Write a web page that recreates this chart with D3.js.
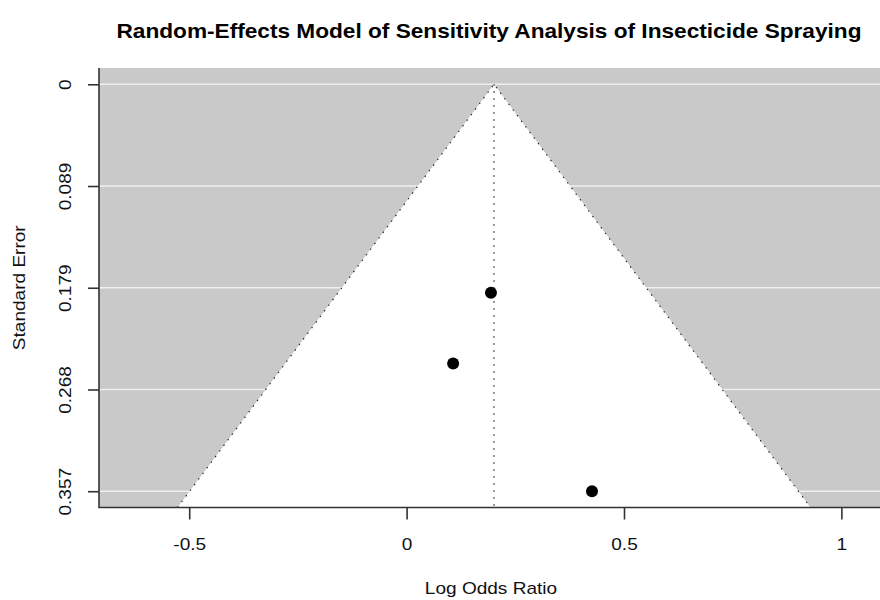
<!DOCTYPE html>
<html>
<head>
<meta charset="utf-8">
<script src="https://cdn.jsdelivr.net/npm/d3@7"></script>
<style>
  html, body { margin: 0; padding: 0; background: #fff; }
  svg { display: block; font-family: "Liberation Sans", Arial, Helvetica, sans-serif; }
</style>
</head>
<body>
<svg id="chart" width="880" height="600"></svg>
<script>
// Study estimates (log odds ratio) and their standard errors
const studyLabels = ["Study 1", "Study 2", "Study 3"];
const logOddsRatio = [0.194, 0.107, 0.4264];
const standardError = [0.183, 0.245, 0.3572];

// Pooled random-effects estimate (centre of the funnel)
const pooledEstimate = 0.201;

// Axis ticks
const xTicks = [-0.5, 0, 0.5, 1];
const yTickValues = [0, 0.0893, 0.1786, 0.2679, 0.3572];
const yTickLabels = ["0", "0.089", "0.179", "0.268", "0.357"];

const titleText = "Random-Effects Model of Sensitivity Analysis of Insecticide Spraying";
const xLabel = "Log Odds Ratio";
const yLabel = "Standard Error";

(function draw() {
  const svg = d3.select("#chart");

  // Plot region
  const pLeft = 99, pRight = 883, pTop = 68, pBottom = 507.5;
  const axisFont = 17;
  const stretch = 1.12; // slightly wide lettering for the axis texts

  const seMax = d3.max(standardError);
  const yPad = seMax * 0.04;
  const y = d3.scaleLinear().domain([-yPad, seMax + yPad]).range([pTop, pBottom]);
  const x = d3.scaleLinear().domain([-0.7075, 1.0957]).range([pLeft, pRight]);

  // widen a text element horizontally by the given factor
  function widen(sel, factor) {
    sel.each(function () {
      const len = this.getComputedTextLength();
      d3.select(this)
        .attr("textLength", len * factor)
        .attr("lengthAdjust", "spacingAndGlyphs");
    });
  }

  // Grey background panel
  svg.append("rect")
    .attr("x", pLeft).attr("y", pTop)
    .attr("width", pRight - pLeft).attr("height", pBottom - pTop)
    .attr("fill", "#c9c9c9");

  // Horizontal reference lines
  svg.append("g").selectAll("line").data(yTickValues).join("line")
    .attr("x1", pLeft).attr("x2", pRight)
    .attr("y1", d => y(d)).attr("y2", d => y(d))
    .attr("stroke", "#efefef").attr("stroke-width", 1.5);

  // 95% pseudo-confidence funnel
  const seBottom = y.domain()[1];
  const funnel = [
    [pooledEstimate - 1.96 * seBottom, seBottom],
    [pooledEstimate, 0],
    [pooledEstimate + 1.96 * seBottom, seBottom]
  ];
  const line = d3.line().x(d => x(d[0])).y(d => y(d[1]));
  svg.append("path")
    .attr("d", line(funnel) + "Z")
    .attr("fill", "#ffffff");
  svg.append("path")
    .attr("d", line(funnel))
    .attr("fill", "none")
    .attr("stroke", "#222").attr("stroke-width", 1.2)
    .attr("stroke-dasharray", "1.4,5.6");

  // Vertical line at the pooled estimate
  svg.append("line")
    .attr("x1", x(pooledEstimate)).attr("x2", x(pooledEstimate))
    .attr("y1", y(0)).attr("y2", pBottom)
    .attr("stroke", "#222").attr("stroke-width", 1.2)
    .attr("stroke-dasharray", "1.4,5.6");

  // Study points
  svg.append("g").selectAll("circle").data(studyLabels).join("circle")
    .attr("cx", (d, i) => x(logOddsRatio[i]))
    .attr("cy", (d, i) => y(standardError[i]))
    .attr("r", 6)
    .attr("fill", "#000");

  // L-shaped frame
  svg.append("path")
    .attr("d", `M${pLeft},${pTop}V${pBottom}H${pRight}`)
    .attr("fill", "none").attr("stroke", "#333").attr("stroke-width", 1.6);

  // X axis
  const xAxis = d3.axisBottom(x).tickValues(xTicks).tickSize(12).tickPadding(18)
    .tickFormat(d => String(d));
  const gx = svg.append("g").attr("transform", `translate(0,${pBottom})`).call(xAxis);
  gx.select(".domain").remove();
  gx.selectAll(".tick line").attr("stroke", "#333").attr("stroke-width", 1.6);
  gx.selectAll(".tick text").attr("font-size", axisFont).attr("fill", "#111")
    .attr("font-family", "Liberation Sans, Arial, sans-serif")
    .call(widen, stretch);

  // Y axis with rotated labels
  const yAxis = d3.axisLeft(y).tickValues(yTickValues).tickSize(11)
    .tickFormat((d, i) => yTickLabels[i]);
  const gy = svg.append("g").attr("transform", `translate(${pLeft},0)`).call(yAxis);
  gy.select(".domain").remove();
  gy.selectAll(".tick line").attr("stroke", "#333").attr("stroke-width", 1.6);
  gy.selectAll(".tick text")
    .attr("font-size", axisFont).attr("fill", "#111")
    .attr("font-family", "Liberation Sans, Arial, sans-serif")
    .attr("x", null).attr("dy", null)
    .attr("text-anchor", "middle")
    .attr("transform", "translate(-34,0) rotate(-90)")
    .attr("dominant-baseline", "central")
    .call(widen, stretch);

  // Title
  svg.append("text")
    .attr("x", (pLeft + pRight) / 2 - 2).attr("y", 38)
    .attr("text-anchor", "middle")
    .attr("font-size", 21).attr("font-weight", "bold").attr("fill", "#000")
    .attr("textLength", 745).attr("lengthAdjust", "spacingAndGlyphs")
    .text(titleText);

  // Axis titles
  svg.append("text")
    .attr("x", (pLeft + pRight) / 2).attr("y", 594)
    .attr("text-anchor", "middle")
    .attr("font-size", axisFont).attr("fill", "#111")
    .text(xLabel)
    .call(widen, stretch);

  svg.append("text")
    .attr("transform", `translate(25,${(pTop + pBottom) / 2}) rotate(-90)`)
    .attr("text-anchor", "middle")
    .attr("font-size", axisFont).attr("fill", "#111")
    .text(yLabel)
    .call(widen, stretch);
})();
</script>
</body>
</html>
